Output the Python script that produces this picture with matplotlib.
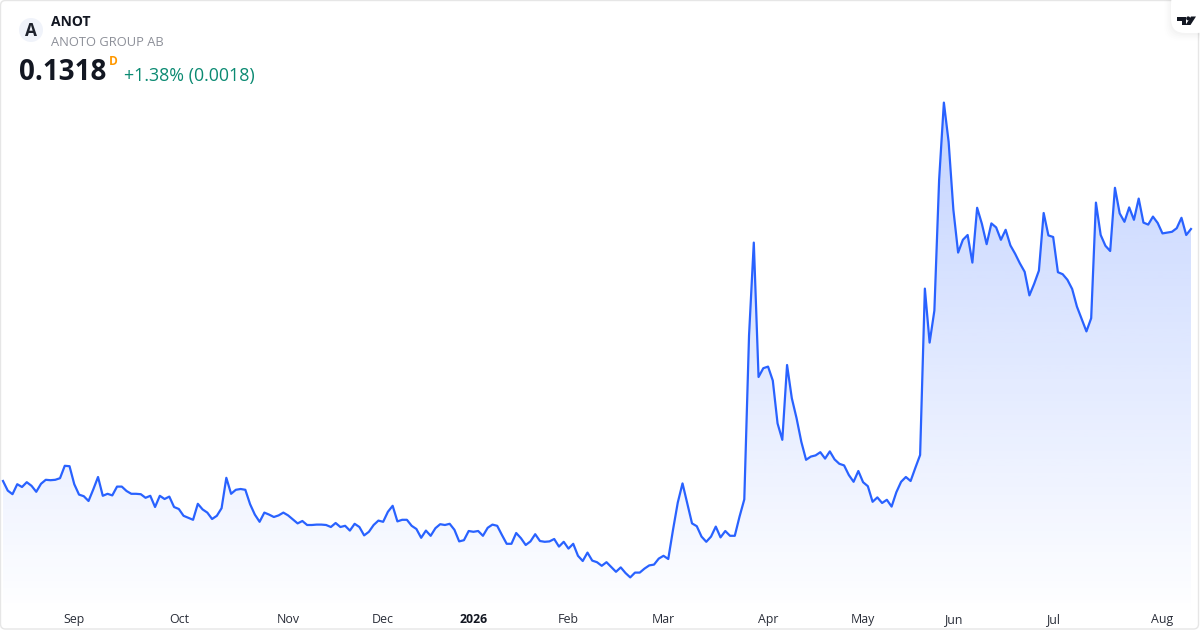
import matplotlib
matplotlib.use('Agg')
import matplotlib.pyplot as plt
from matplotlib.patches import FancyBboxPatch, Circle, Polygon
from matplotlib.colors import LinearSegmentedColormap
import numpy as np

plt.rcParams['font.family'] = ['Open Sans', 'DejaVu Sans']

# daily close
closes = [
    .0688, .0664, .0655, .0680, .0673, .0685, .0676, .0661, .0681, .0691, .0690, .0691, .0695, .0726, .0725, .0680,
    .0654, .0650, .0638, .0667, .0698, .0651, .0656, .0652, .0674, .0674, .0663, .0656, .0656, .0655, .0646, .0651,
    .0623, .0651, .0643, .0649, .0623, .0618, .0601, .0596, .0591, .0631, .0617, .0609, .0593, .0601, .0620, .0696,
    .0656, .0666, .0668, .0666, .0630, .0604, .0586, .0609, .0604, .0598, .0602, .0609, .0602, .0592, .0582,
    .0588, .0578, .0578, .0579, .0579, .0578, .0573, .0583, .0573, .0576, .0564, .0581, .0573, .0552, .0561, .0578,
    .0589, .0586, .0611, .0626, .0587, .0591, .0591, .0576, .0568, .0546, .0564, .0551, .0570, .0580, .0578, .0581,
    .0566, .0537, .0540, .0563, .0561, .0563, .0551, .0571, .0579, .0576, .0553, .0531, .0531, .0558, .0545, .0528,
    .0537, .0555, .0538, .0536, .0537, .0543, .0524, .0536, .0519, .0531, .0501, .0488, .0509, .0489, .0485,
    .0476, .0485, .0473, .0461, .0472, .0458, .0447, .0459, .0459, .0469, .0477, .0479, .0494, .0501, .0493, .0566,
    .0634, .0682, .0632, .0582, .0575, .0549, .0536, .0549, .0574, .0547, .0563, .0551, .0551, .0599, .0642, .1052,
    .1284, .0948, .0970, .0974, .0939, .0832, .0791, .0978, .0895, .0845, .0786, .0741, .0749, .0752, .0760, .0744,
    .0762, .0742, .0731, .0727, .0703, .0686, .0713, .0685, .0675, .0636, .0647, .0633, .0641, .0624, .0660,
    .0686, .0698, .0688, .0721, .0753,
    .1169, .1034, .1114, .1441, .1634, .1536, .1366, .1259, .1291, .1303, .1234, .1371, .1331, .1280, .1332, .1322,
    .1291, .1316, .1277, .1256, .1232, .1211, .1152, .1181, .1214, .1358, .1302, .1298, .1210, .1205, .1191, .1168,
    .1124, .1093, .1062, .1095, .1384, .1303, .1276, .1263, .1421, .1357, .1336, .1372, .1341, .1394, .1334, .1329,
    .1349, .1333, .1307, .1309, .1311, .1320, .1346, .1303, .1318,
]
tick_pos = [15, 37, 60, 80, 99, 119, 139, 161, 181, 200, 221, 244]
tick_labels = ['Sep', 'Oct', 'Nov', 'Dec', '2026', 'Feb', 'Mar', 'Apr', 'May', 'Jun', 'Jul', 'Aug']

W, H = 1200, 630
fig = plt.figure(figsize=(12, 6.3), dpi=100)
ax = fig.add_axes([0, 0, 1, 1])
xs = np.arange(len(closes))
ax.set_yticks([])
ax.set_xticks(tick_pos)
ax.set_xticklabels(tick_labels, fontsize=8.9, color='#2a2e39')
ax.tick_params(axis='x', direction='in', length=0, pad=-12)
ax.get_xticklabels()[4].set_fontweight('bold')
ax.get_xticklabels()[4].set_color('#131722')
for s in ax.spines.values():
    s.set_visible(False)

# gradient under the line
cmap = LinearSegmentedColormap.from_list('fade', [(41/255, 98/255, 255/255, 0.28), (41/255, 98/255, 255/255, 0.0)])
top, bottom = max(closes), 0.0345
img = ax.imshow(np.linspace(0, 1, 256).reshape(-1, 1), cmap=cmap, aspect='auto',
                extent=(xs[0], xs[-1], bottom, top), origin='upper', zorder=1, interpolation='bilinear')
ax.set_xlim(-0.63, 251.9)
ax.set_ylim(0.03155, 0.18905)
poly = Polygon(np.r_[np.c_[xs, closes], [[xs[-1], bottom], [xs[0], bottom]]], closed=True, transform=ax.transData, fc='none', ec='none')
ax.add_patch(poly)
img.set_clip_path(poly)
ax.plot(xs, closes, color='#2962ff', lw=1.6, solid_joinstyle='round', zorder=2)

# overlay in pixel coordinates, y down
ov = fig.add_axes([0, 0, 1, 1], facecolor='none')
ov.set_xlim(0, W)
ov.set_ylim(H, 0)
ov.axis('off')

ov.add_patch(FancyBboxPatch((0.5, 0.5), W - 2, H - 1.5, boxstyle='round,pad=0,rounding_size=5',
                            fc='none', ec='#e6e6e6', lw=1))

ov.add_patch(Circle((31, 30), 12, fc='#f0f3fa', ec='none'))
ov.text(31, 30.5, 'A', fontsize=12.5, fontweight='bold', color='#1e222d', ha='center', va='center')
ov.text(51, 21.5, 'ANOT', fontsize=10, fontweight='bold', color='#131722', ha='left', va='center')
ov.text(51, 42, 'ANOTO GROUP AB', fontsize=9.25, color='#8c8f98', ha='left', va='center')
ov.text(19, 73, '0.1318', fontsize=20, fontweight='bold', color='#131722', ha='left', va='center')
ov.text(109, 61.5, 'D', fontsize=8.6, fontweight='bold', color='#ff9800', ha='left', va='center')
ov.text(124, 76, '+1.38% (0.0018)', fontsize=12.85, color='#0b8a72', ha='left', va='center')

# tradingview badge
for pad, alpha in [(7, 0.004), (5.5, 0.006), (4, 0.008), (2.5, 0.01), (1, 0.012)]:
    ov.add_patch(FancyBboxPatch((1171 - pad, -10), 40 + pad, 43 + pad + 1, boxstyle='round,pad=0,rounding_size=14',
                                fc='black', ec='none', alpha=alpha))
ov.add_patch(FancyBboxPatch((1171, -10), 40, 43, boxstyle='round,pad=0,rounding_size=14', fc='white', ec='none'))
ov.add_patch(Polygon([(1177, 16.5), (1186, 16.5), (1186, 25), (1181.5, 25), (1181.5, 20.5), (1177, 20.5)], fc='#131722', ec='none'))
ov.add_patch(Circle((1188.2, 18.4), 2, fc='#131722', ec='none'))
ov.add_patch(Polygon([(1191, 16.5), (1196, 16.5), (1190.5, 25), (1185.5, 25)], fc='#131722', ec='none'))

fig.savefig('out.png', dpi=100, facecolor='white')
